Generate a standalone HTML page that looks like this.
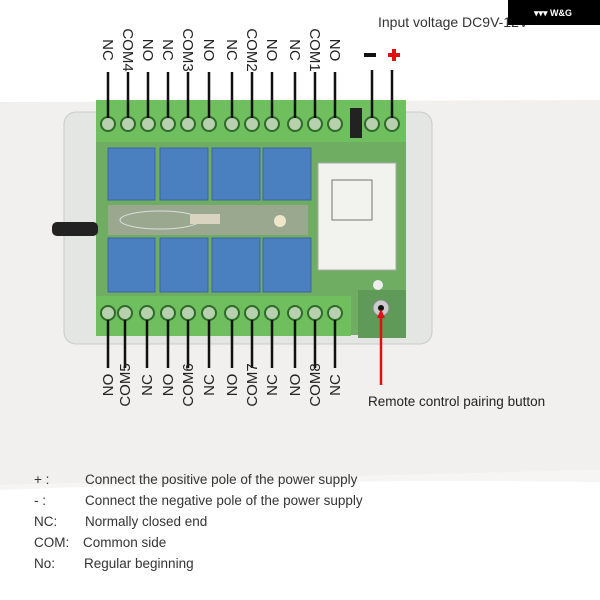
<!DOCTYPE html>
<html><head><meta charset="utf-8"><style>
html,body{margin:0;padding:0;background:#fff}
svg{display:block}
text{font-family:"Liberation Sans",sans-serif}
</style></head><body>
<svg width="600" height="600" viewBox="0 0 600 600" xmlns="http://www.w3.org/2000/svg">
<rect width="600" height="600" fill="#fff"/>
<path d="M0 102 L600 100 L600 470 L0 485 Z" fill="#f1f0ee"/>
<path d="M0 485 L600 470 L600 482 Q300 478 0 490 Z" fill="#f6f5f3"/>
<rect x="64" y="112" width="368" height="232" rx="12" fill="#e3e6e3" stroke="#c8ccc8"/>
<rect x="96" y="100" width="310" height="235" fill="#6fae62"/>
<rect x="96" y="100" width="255" height="42" fill="#6fbf5e"/>
<rect x="96" y="296" width="255" height="40" fill="#6fbf5e"/>
<rect x="350" y="100" width="56" height="42" fill="#6fbf5e"/>
<rect x="350" y="108" width="12" height="30" fill="#222"/>
<rect x="108" y="205" width="200" height="30" fill="#9aa890"/>
<ellipse cx="160" cy="220" rx="40" ry="9" fill="none" stroke="#ddd"/>
<rect x="190" y="214" width="30" height="10" fill="#d8d4c0"/>
<circle cx="280" cy="221" r="6" fill="#efe5c8"/>
<rect x="52" y="222" width="46" height="14" rx="5" fill="#222"/>
<g fill="#4a7fc0" stroke="#3a66a0">
<rect x="108" y="148" width="47" height="52"/><rect x="160" y="148" width="48" height="52"/>
<rect x="212" y="148" width="48" height="52"/><rect x="263" y="148" width="48" height="52"/>
<rect x="108" y="238" width="47" height="54"/><rect x="160" y="238" width="48" height="54"/>
<rect x="212" y="238" width="48" height="54"/><rect x="263" y="238" width="48" height="54"/>
</g>
<rect x="318" y="163" width="78" height="107" fill="#f2f2ee" stroke="#aaa"/>
<rect x="332" y="180" width="40" height="40" fill="none" stroke="#555" stroke-width="0.8"/>
<rect x="358" y="290" width="48" height="48" fill="#5f9a58"/>
<circle cx="381" cy="308" r="8" fill="#ccc" stroke="#888"/>
<circle cx="381" cy="308" r="3" fill="#111"/>
<circle cx="378" cy="285" r="5" fill="#eee"/>
<g fill="#b7d0ae" stroke="#2e6b2a" stroke-width="2">
<circle cx="108" cy="124" r="7"/><circle cx="128" cy="124" r="7"/><circle cx="148" cy="124" r="7"/><circle cx="168" cy="124" r="7"/><circle cx="188" cy="124" r="7"/><circle cx="209" cy="124" r="7"/><circle cx="232" cy="124" r="7"/><circle cx="252" cy="124" r="7"/><circle cx="272" cy="124" r="7"/><circle cx="295" cy="124" r="7"/><circle cx="315" cy="124" r="7"/><circle cx="335" cy="124" r="7"/><circle cx="372" cy="124" r="7"/><circle cx="392" cy="124" r="7"/>
<circle cx="108" cy="313" r="7"/><circle cx="125" cy="313" r="7"/><circle cx="147" cy="313" r="7"/><circle cx="168" cy="313" r="7"/><circle cx="188" cy="313" r="7"/><circle cx="209" cy="313" r="7"/><circle cx="232" cy="313" r="7"/><circle cx="252" cy="313" r="7"/><circle cx="272" cy="313" r="7"/><circle cx="295" cy="313" r="7"/><circle cx="315" cy="313" r="7"/><circle cx="335" cy="313" r="7"/>
</g>
<g stroke="#111" stroke-width="2.5">
<path d="M108 72V118M128 72V118M148 72V118M168 72V118M188 72V118M209 72V118M232 72V118M252 72V118M272 72V118M295 72V118M315 72V118M335 72V118M372 70V118M392 70V118"/>
<path d="M108 320V368M125 320V368M147 320V368M168 320V368M188 320V368M209 320V368M232 320V368M252 320V368M272 320V368M295 320V368M315 320V368M335 320V368"/>
</g>
<path d="M381 314V385" stroke="#e01010" stroke-width="2.5"/>
<path d="M377 318L381 309L385 318Z" fill="#e01010"/>
<g font-size="15" fill="#222" text-anchor="middle">
<text transform="translate(103,50) rotate(90)">NC</text>
<text transform="translate(123,50) rotate(90)">COM4</text>
<text transform="translate(143,50) rotate(90)">NO</text>
<text transform="translate(163,50) rotate(90)">NC</text>
<text transform="translate(183,50) rotate(90)">COM3</text>
<text transform="translate(204,50) rotate(90)">NO</text>
<text transform="translate(227,50) rotate(90)">NC</text>
<text transform="translate(247,50) rotate(90)">COM2</text>
<text transform="translate(267,50) rotate(90)">NO</text>
<text transform="translate(290,50) rotate(90)">NC</text>
<text transform="translate(310,50) rotate(90)">COM1</text>
<text transform="translate(330,50) rotate(90)">NO</text>
</g>
<g font-size="15" fill="#222" text-anchor="middle">
<text transform="translate(113,385) rotate(-90)">NO</text>
<text transform="translate(130,385) rotate(-90)">COM5</text>
<text transform="translate(152,385) rotate(-90)">NC</text>
<text transform="translate(173,385) rotate(-90)">NO</text>
<text transform="translate(193,385) rotate(-90)">COM6</text>
<text transform="translate(214,385) rotate(-90)">NC</text>
<text transform="translate(237,385) rotate(-90)">NO</text>
<text transform="translate(257,385) rotate(-90)">COM7</text>
<text transform="translate(277,385) rotate(-90)">NC</text>
<text transform="translate(300,385) rotate(-90)">NO</text>
<text transform="translate(320,385) rotate(-90)">COM8</text>
<text transform="translate(340,385) rotate(-90)">NC</text>
</g>
<text x="378" y="27" font-size="14" fill="#333">Input voltage DC9V-12V</text>
<rect x="508" y="0" width="92" height="25" fill="#000"/>
<text x="534" y="16" font-size="9" fill="#fff" font-weight="bold">▾▾▾ W&amp;G</text>
<rect x="364" y="53" width="12" height="4" fill="#111"/>
<rect x="388" y="53" width="12" height="4" fill="#e01010"/><rect x="392" y="49" width="4" height="12" fill="#e01010"/>
<text x="368" y="406" font-size="13.5" fill="#222">Remote control pairing button</text>
<g font-size="13.5" fill="#333">
<text x="34" y="484">+ :</text><text x="85" y="484">Connect the positive pole of the power supply</text>
<text x="34" y="505">- :</text><text x="85" y="505">Connect the negative pole of the power supply</text>
<text x="34" y="526">NC:</text><text x="85" y="526">Normally closed end</text>
<text x="34" y="547">COM:</text><text x="83" y="547">Common side</text>
<text x="34" y="568">No:</text><text x="84" y="568">Regular beginning</text>
</g>
</svg>
</body></html>
